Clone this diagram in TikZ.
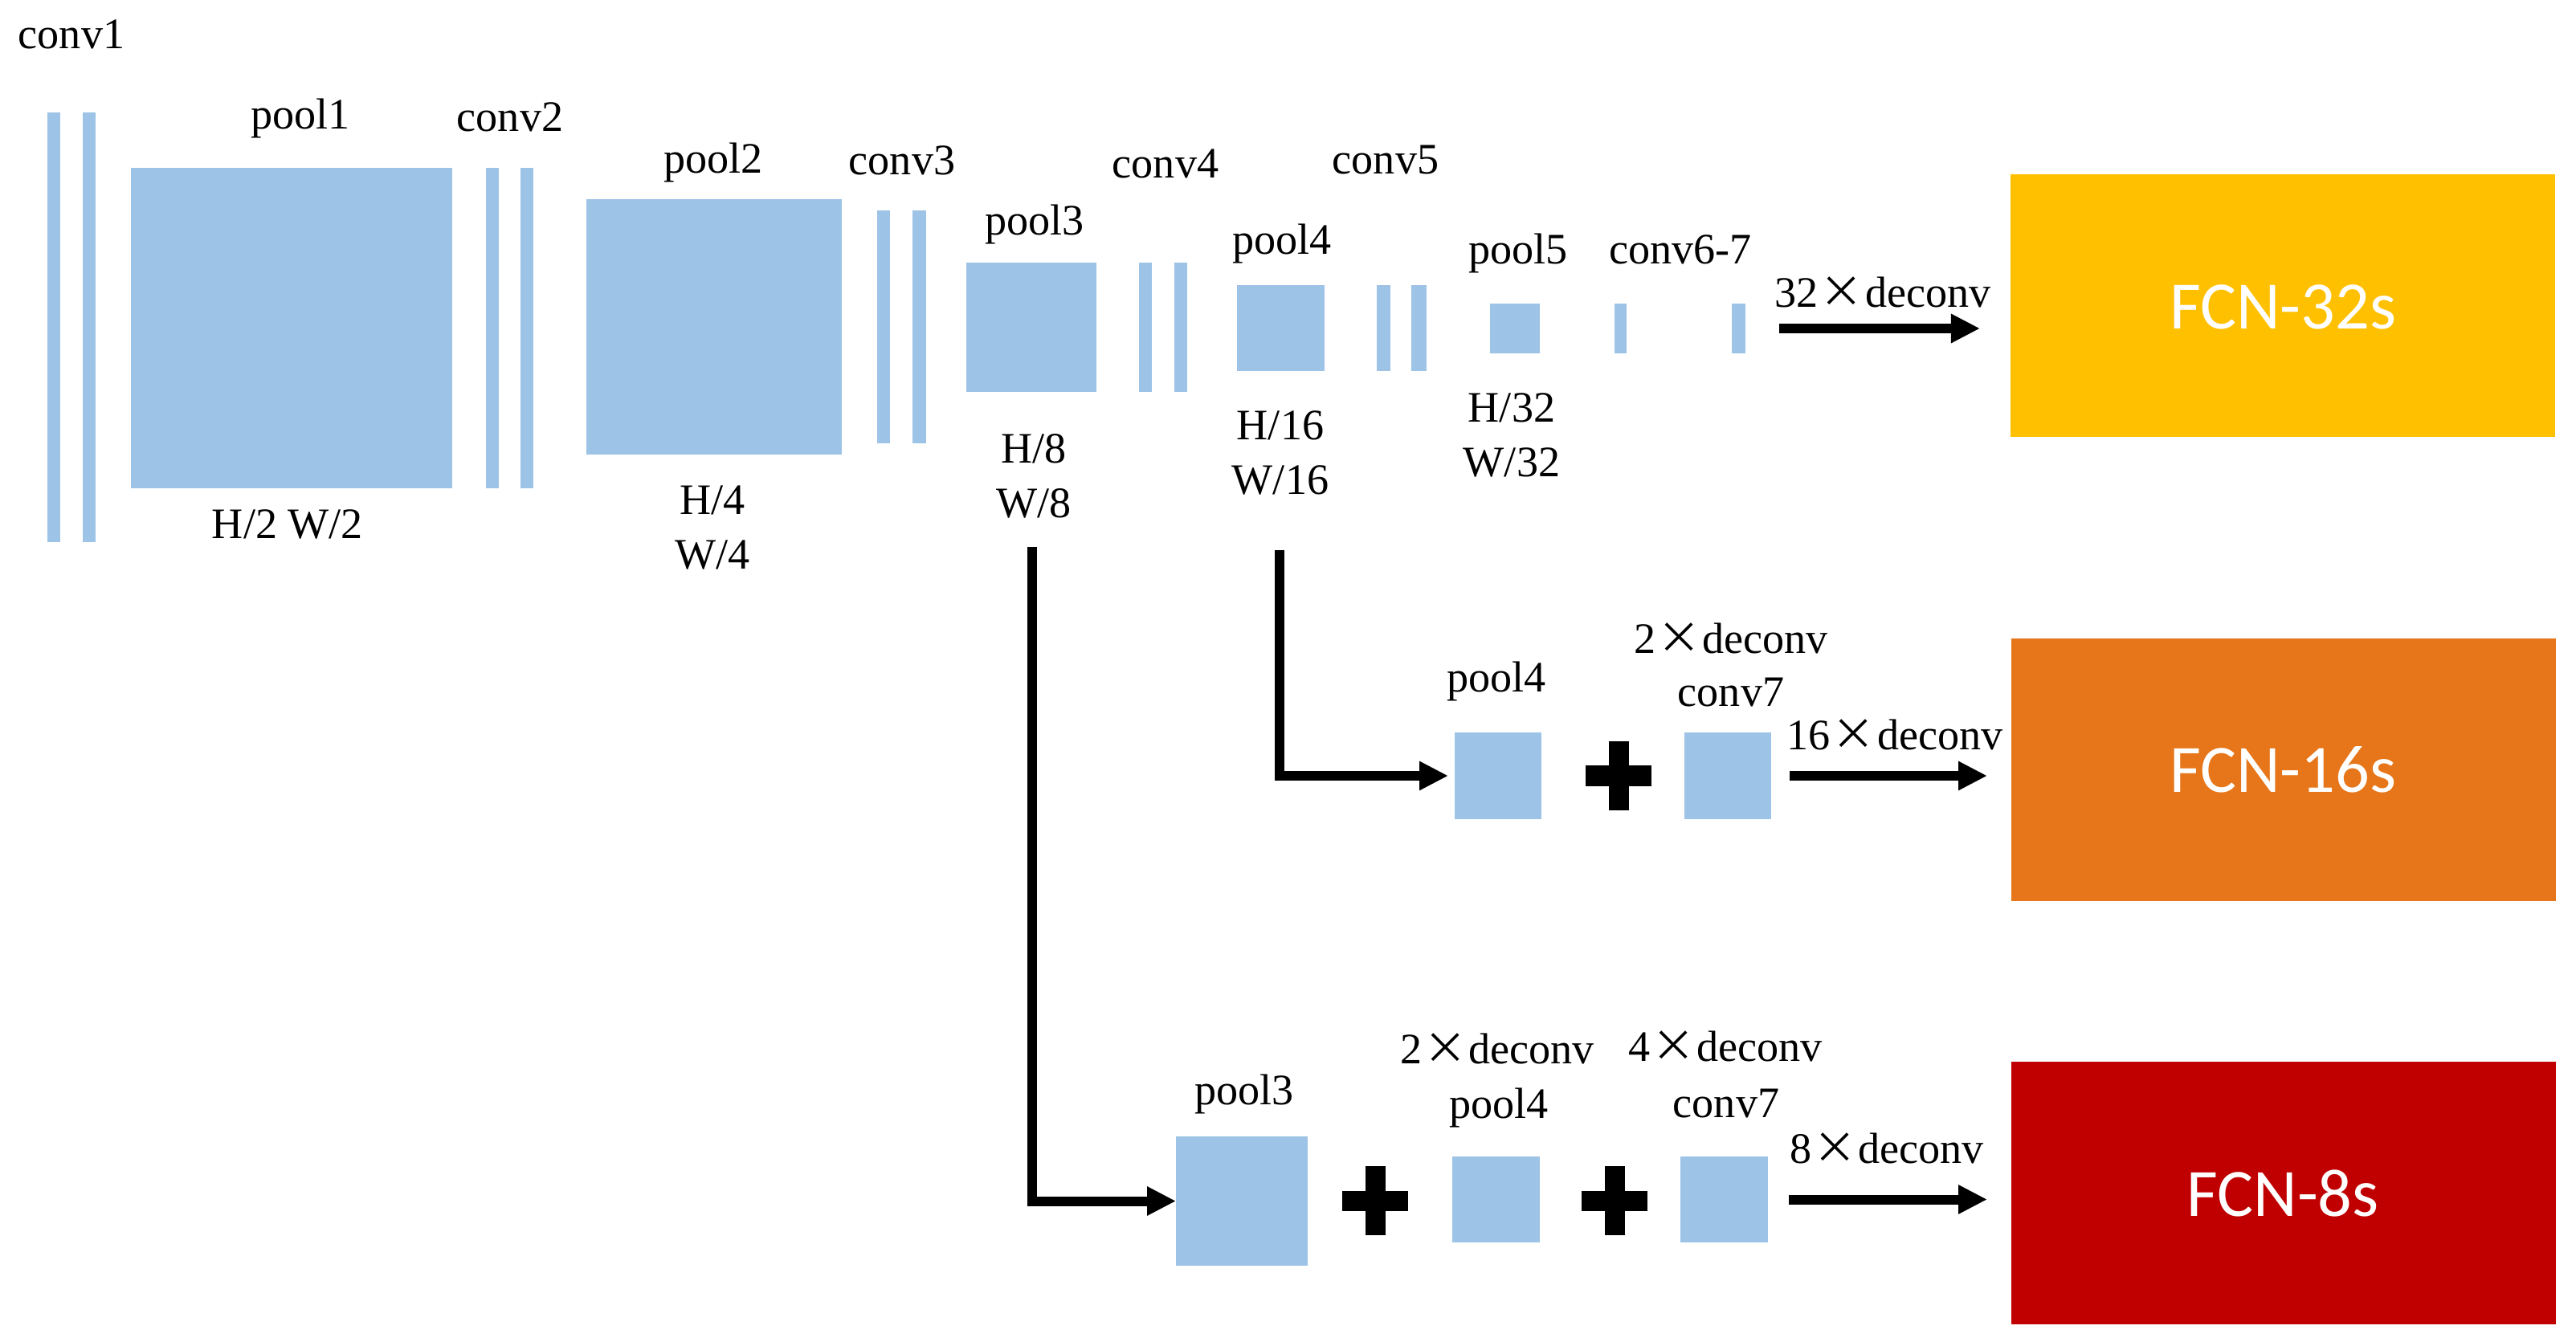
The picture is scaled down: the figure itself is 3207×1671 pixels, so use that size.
\documentclass[tikz,border=0pt]{standalone}
\usepackage{fontspec}
\setmainfont{Liberation Serif}
\newfontfamily\fcnfont{Carlito}
\newfontfamily\cjkfont{Noto Sans CJK SC}
\usetikzlibrary{arrows.meta,fit}
\definecolor{blu}{HTML}{9DC3E6}
\definecolor{gold}{HTML}{FFC000}
\definecolor{orng}{HTML}{E67619}
\definecolor{dred}{HTML}{C00000}
\newcommand\tms{\hspace{0.04em}{\cjkfont ×}\hspace{0.04em}}
\newcommand\bx[5]{\node[blk, fit={(#2,#3) (#4,#5)}] (#1) {};}
\newcommand\plusmark[3]{%
  \coordinate (#1) at (#2,#3);
  \fill ([xshift=-0.41cm,yshift=-0.125cm]#1) rectangle ([xshift=0.41cm,yshift=0.125cm]#1);
  \fill ([xshift=-0.125cm,yshift=-0.425cm]#1) rectangle ([xshift=0.125cm,yshift=0.425cm]#1);}
\begin{document}
\begin{tikzpicture}[x=0.01cm,y=-0.01cm,
  blk/.style={fill=blu, draw=none, inner sep=0pt, outer sep=0pt},
  fcnbox/.style={draw=none, inner sep=0pt, outer sep=0pt},
  lbl/.style={font=\fontsize{15.4pt}{19.4pt}\selectfont, inner sep=0pt, anchor=base, align=center},
  fcnlbl/.style={font=\fcnfont\fontsize{24pt}{28pt}\selectfont, text=white, inner sep=0pt, anchor=base},
  conn/.style={line width=0.12cm, line join=miter, -{Triangle[length=0.36cm,width=0.34cm]}}]
\useasboundingbox (0,0) rectangle (3207,1671);

% ---- backbone ----
\bx{c1a}{59}{140}{75}{675}
\bx{c1b}{103}{140}{119}{675}
\bx{pool1}{163}{209}{563}{608}
\bx{c2a}{605}{209}{621}{608}
\bx{c2b}{648}{209}{664}{608}
\bx{pool2}{730}{248}{1048}{566}
\bx{c3a}{1092}{262}{1108}{552}
\bx{c3b}{1136}{262}{1153}{552}
\bx{pool3}{1203}{327}{1365}{488}
\bx{c4a}{1418}{327}{1434}{488}
\bx{c4b}{1462}{327}{1478}{488}
\bx{pool4}{1540}{355}{1649}{462}
\bx{c5a}{1714}{355}{1731}{462}
\bx{c5b}{1757}{355}{1776}{462}
\bx{pool5}{1855}{378}{1917}{440}
\bx{c67a}{2010}{378}{2025}{440}
\bx{c67b}{2156}{378}{2173}{440}

\node[lbl] (tconv1) at (89,61) {conv1};
\node[lbl] (tpool1) at (374,161) {pool1};
\node[lbl] (tconv2) at (635,164) {conv2};
\node[lbl] (tpool2) at (888,216) {pool2};
\node[lbl] (tconv3) at (1123,218) {conv3};
\node[lbl] (tpool3) at (1288,293) {pool3};
\node[lbl] (tconv4) at (1451,222) {conv4};
\node[lbl] (tpool4) at (1596,317) {pool4};
\node[lbl] (tconv5) at (1725,217) {conv5};
\node[lbl] (tpool5) at (1890,329) {pool5};
\node[lbl] (tconv67) at (2092,329) {conv6-7};

\node[lbl] (d2) at (358,671) {H/2 W/2};
\node[lbl] (d4) at (887,709) {H/4\\W/4};
\node[lbl] (d8) at (1287,645) {H/8\\W/8};
\node[lbl] (d16) at (1594,616) {H/16\\W/16};
\node[lbl] (d32) at (1882,594) {H/32\\W/32};

% ---- FCN-32s ----
\node[fcnbox, fill=gold, fit={(2503,217) (3181,544)}] (fcn32) {};
\node[fcnlbl] (t32) at (2842,410) {FCN-32s};
\node[lbl] (l32) at (2344,383) {32\tms deconv};
\draw[conn] ([xshift=0.42cm]c67b.east) -- ([xshift=-0.38cm]c67b.east -| fcn32.west);

% ---- FCN-16s ----
\bx{p4b}{1811}{912}{1919}{1020}
\plusmark{plusa}{2015}{966}
\bx{c7b}{2097}{912}{2205}{1020}
\node[fcnbox, fill=orng, fit={(2504,795) (3182,1122)}] (fcn16) {};
\node[fcnlbl] (t16) at (2842,986) {FCN-16s};
\node[lbl] (tp4b) at (1863,862) {pool4};
\node[lbl] (tdc2a) at (2155,814) {2\tms deconv};
\node[lbl] (tc7b) at (2155,880) {conv7};
\node[lbl] (l16) at (2359,933) {16\tms deconv};
\draw[conn] ([xshift=0.23cm]c7b.east) -- ([xshift=-0.30cm]c7b.east -| fcn16.west);

% ---- FCN-8s ----
\bx{p3c}{1464}{1415}{1628}{1576}
\plusmark{plusb}{1712}{1495}
\bx{p4c}{1808}{1440}{1917}{1547}
\plusmark{plusc}{2010}{1495}
\bx{c7c}{2092}{1440}{2201}{1547}
\node[fcnbox, fill=dred, fit={(2504,1322) (3182,1649)}] (fcn8) {};
\node[fcnlbl] (t8) at (2842,1514) {FCN-8s};
\node[lbl] (tp3c) at (1549,1375) {pool3};
\node[lbl] (tdc2b) at (1864,1324) {2\tms deconv};
\node[lbl] (tp4c) at (1866,1392) {pool4};
\node[lbl] (tdc4) at (2148,1321) {4\tms deconv};
\node[lbl] (tc7c) at (2149,1391) {conv7};
\node[lbl] (l8) at (2349,1448) {8\tms deconv};
\draw[conn] ([xshift=0.26cm]c7c.east) -- ([xshift=-0.30cm]c7c.east -| fcn8.west);

% ---- skip connections ----
\coordinate (s3) at (1285,681);
\coordinate (s4) at (1593,685);
\draw[conn] (s3) |- (p3c.west);
\draw[conn, shorten >=0.08cm] (s4) |- (p4b.west);
\end{tikzpicture}
\end{document}
